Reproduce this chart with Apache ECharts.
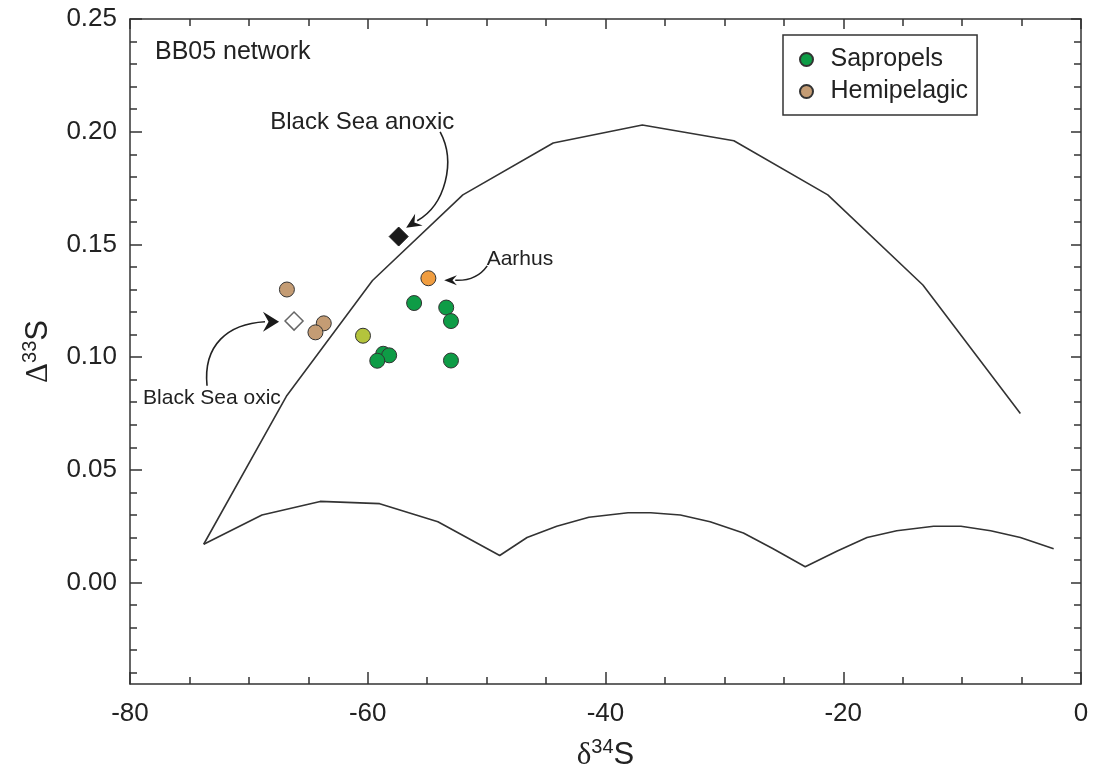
<!DOCTYPE html>
<html><head><meta charset="utf-8">
<script src="https://cdn.jsdelivr.net/npm/echarts@6/dist/echarts.min.js"></script>
<style>html,body{margin:0;padding:0;background:#fff}#c{width:1095px;height:773px}</style>
</head><body><div id="c"></div>
<script>
// ---- data ----
const upperX = [-73.8, -66.8, -59.6, -52.0, -44.4, -36.9, -29.2, -21.3, -13.3, -5.1];
const upperY = [0.017, 0.083, 0.134, 0.172, 0.195, 0.203, 0.196, 0.172, 0.132, 0.075];
const lowerX = [-73.8, -68.9, -64.0, -59.0, -54.1, -48.9, -46.6, -44.1, -41.4, -38.1, -36.2, -33.7, -31.2, -28.4, -25.9, -23.2, -20.5, -18.0, -15.5, -12.4, -10.1, -7.6, -5.1, -2.3];
const lowerY = [0.017, 0.030, 0.036, 0.035, 0.027, 0.012, 0.020, 0.025, 0.029, 0.031, 0.031, 0.030, 0.027, 0.022, 0.015, 0.007, 0.014, 0.020, 0.023, 0.025, 0.025, 0.023, 0.020, 0.015];
const sapropelX = [-56.1, -53.4, -53.0, -53.0, -58.7, -58.2, -59.2];
const sapropelY = [0.124, 0.122, 0.116, 0.0985, 0.1015, 0.1008, 0.0984];
const hemiX = [-66.8, -63.7, -64.4];
const hemiY = [0.130, 0.115, 0.111];
const yellowPt = [-60.4, 0.1095];
const aarhusPt = [-54.9, 0.135];
const anoxicPt = [-57.4, 0.1535];
const oxicPt = [-66.2, 0.116];
const yMajor = [0, 0.05, 0.10, 0.15, 0.20, 0.25];
const yMinor = [-0.04, -0.03, -0.02, -0.01, 0.01, 0.02, 0.03, 0.04, 0.06, 0.07, 0.08, 0.09, 0.11, 0.12, 0.13, 0.14, 0.16, 0.17, 0.18, 0.19, 0.21, 0.22, 0.23, 0.24];
// annotations (data coordinates)
const labels = [
  {text: 'BB05 network', x: -77.9, y: 0.2354, size: 25},
  {text: 'Black Sea anoxic', x: -68.2, y: 0.2043, size: 24},
  {text: 'Aarhus', x: -50.0, y: 0.1436, size: 21},
  {text: 'Black Sea oxic', x: -78.9, y: 0.0820, size: 21}
];
// arrows: start, cp1, cp2, end, tip, half-width
const arrows = [
  {p: [[-53.91, 0.1999], [-52.56, 0.1866], [-53.48, 0.1676], [-55.84, 0.1605], [-56.77, 0.1574]], w: 7},
  {p: [[-49.95, 0.1405], [-50.71, 0.1348], [-51.80, 0.1339], [-52.64, 0.1341], [-53.57, 0.1341]], w: 5},
  {p: [[-73.52, 0.0873], [-73.86, 0.1055], [-71.75, 0.1148], [-68.64, 0.1157], [-67.46, 0.1157]], w: 10}
];

const zip = (a, b) => a.map((v, i) => [v, b[i]]);
const FONT = 'Liberation Sans, Arial, sans-serif';
const AX = '#333';

const chart = echarts.init(document.getElementById('c'), null, {renderer: 'canvas'});
const baseX = {
  type: 'value', min: -80, max: 0, interval: 20,
  axisLine: {onZero: false, lineStyle: {color: AX, width: 1.5}},
  axisTick: {inside: true, length: 12, lineStyle: {color: AX, width: 1.5}},
  minorTick: {show: true, splitNumber: 4, length: 7, lineStyle: {color: AX, width: 1.5}},
  splitLine: {show: false}, minorSplitLine: {show: false}
};
const baseY = {
  type: 'value', min: -0.045, max: 0.25,
  axisLine: {show: false, onZero: false},
  splitLine: {show: false}
};
const titleRich = {
  d: {fontFamily: 'Liberation Serif', fontSize: 31, color: '#222', verticalAlign: 'bottom'},
  sup: {fontFamily: FONT, fontSize: 20, color: '#222', verticalAlign: 'bottom', padding: [0, 0, 14, 0]},
  s: {fontFamily: FONT, fontSize: 31, color: '#222', verticalAlign: 'bottom'}
};
chart.setOption({
  animation: false,
  backgroundColor: '#fff',
  grid: {left: 130, right: 14, top: 19, bottom: 89, containLabel: false, outerBoundsMode: 'none'},
  legend: {
    data: ['Sapropels', 'Hemipelagic'], orient: 'vertical', left: 783, top: 35,
    icon: 'circle', itemWidth: 38, itemHeight: 13, itemGap: 7,
    borderColor: '#333', borderWidth: 1.5, padding: [12, 9, 11, 16],
    textStyle: {fontSize: 25, color: '#222', fontFamily: FONT}
  },
  xAxis: [
    Object.assign({}, baseX, {
      position: 'bottom',
      axisLabel: {fontSize: 26, color: '#222', fontFamily: FONT, margin: 17},
      name: '{d|δ}{sup|34}{s|S}', nameLocation: 'middle', nameGap: 53,
      nameTextStyle: {rich: titleRich}
    }),
    Object.assign({}, baseX, {position: 'top', axisLabel: {show: false},
      axisTick: {inside: true, length: 10, lineStyle: {color: AX, width: 1.5}}})
  ],
  yAxis: [
    Object.assign({}, baseY, {
      position: 'left',
      axisLine: {show: true, onZero: false, lineStyle: {color: AX, width: 1.5}},
      axisTick: {inside: true, length: 12, customValues: yMajor, lineStyle: {color: AX, width: 1.5}},
      axisLabel: {customValues: yMajor, fontSize: 26, color: '#222', fontFamily: FONT, margin: 13,
        formatter: v => v.toFixed(2)},
      name: '{d|Δ}{sup|33}{s|S}', nameLocation: 'middle', nameGap: 76, nameRotate: 90,
      nameTextStyle: {rich: titleRich}
    }),
    Object.assign({}, baseY, {
      position: 'left',
      axisTick: {inside: true, length: 7, customValues: yMinor, lineStyle: {color: AX, width: 1.5}},
      axisLabel: {show: false}
    }),
    Object.assign({}, baseY, {
      position: 'right',
      axisLine: {show: true, onZero: false, lineStyle: {color: AX, width: 1.5}},
      axisTick: {inside: true, length: 10, customValues: yMajor, lineStyle: {color: AX, width: 1.5}},
      axisLabel: {show: false}
    }),
    Object.assign({}, baseY, {
      position: 'right',
      axisTick: {inside: true, length: 7, customValues: yMinor, lineStyle: {color: AX, width: 1.5}},
      axisLabel: {show: false}
    })
  ],
  series: [
    {name: 'upper', type: 'line', data: zip(upperX, upperY), showSymbol: false, symbol: 'none',
      lineStyle: {color: '#333', width: 1.6}, z: 2, silent: true},
    {name: 'lower', type: 'line', data: zip(lowerX, lowerY), showSymbol: false, symbol: 'none',
      lineStyle: {color: '#333', width: 1.6}, z: 2, silent: true},
    {name: 'Hemipelagic', type: 'scatter', data: zip(hemiX, hemiY), symbolSize: 15,
      itemStyle: {color: '#c49c74', borderColor: '#333', borderWidth: 1, opacity: 1}, z: 3},
    {name: 'Sapropels', type: 'scatter', data: zip(sapropelX, sapropelY), symbolSize: 15,
      itemStyle: {color: '#0e9c46', borderColor: '#333', borderWidth: 1, opacity: 1}, z: 3},
    {name: 'yellow', type: 'scatter', data: [yellowPt], symbolSize: 15,
      itemStyle: {color: '#b4c43c', borderColor: '#333', borderWidth: 1, opacity: 1}, z: 3},
    {name: 'Aarhus', type: 'scatter', data: [aarhusPt], symbolSize: 15,
      itemStyle: {color: '#f09d40', borderColor: '#333', borderWidth: 1, opacity: 1}, z: 3},
    {name: 'anoxic', type: 'scatter', data: [anoxicPt], symbol: 'diamond', symbolSize: [19, 19],
      itemStyle: {color: '#1a1a1a', borderColor: '#1a1a1a', borderWidth: 1, opacity: 1}, z: 3},
    {name: 'oxic', type: 'scatter', data: [oxicPt], symbol: 'diamond', symbolSize: [18, 18],
      itemStyle: {color: '#fff', borderColor: '#666', borderWidth: 1.5, opacity: 1}, z: 3}
  ]
});

// annotations positioned through the axes
const toPx = p => chart.convertToPixel({xAxisIndex: 0, yAxisIndex: 0}, p);
const g = [];
labels.forEach(l => {
  const [x, y] = toPx([l.x, l.y]);
  g.push({type: 'text', x: x, y: y, z: 10,
    style: {text: l.text, fontSize: l.size, fontFamily: FONT, fill: '#222', verticalAlign: 'middle', align: 'left'}});
});
arrows.forEach(a => {
  const P = a.p.map(toPx);
  g.push({type: 'bezierCurve', z: 10, shape: {x1: P[0][0], y1: P[0][1], cpx1: P[1][0], cpy1: P[1][1],
    cpx2: P[2][0], cpy2: P[2][1], x2: P[3][0], y2: P[3][1]},
    style: {stroke: '#222', lineWidth: 1.6, fill: null}});
  const tip = P[4], end = P[3];
  const dx = tip[0] - end[0], dy = tip[1] - end[1];
  const L = Math.hypot(dx, dy), ux = dx / L, uy = dy / L, nx = -uy, ny = ux;
  const bx = tip[0] - ux * L * 1.15, by = tip[1] - uy * L * 1.15;
  const notch = [tip[0] - ux * L * 0.75, tip[1] - uy * L * 0.75];
  g.push({type: 'polygon', z: 11, shape: {points: [tip, [bx + nx * a.w, by + ny * a.w], notch, [bx - nx * a.w, by - ny * a.w]]},
    style: {fill: '#1a1a1a'}});
});
chart.setOption({graphic: g});
</script></body></html>
